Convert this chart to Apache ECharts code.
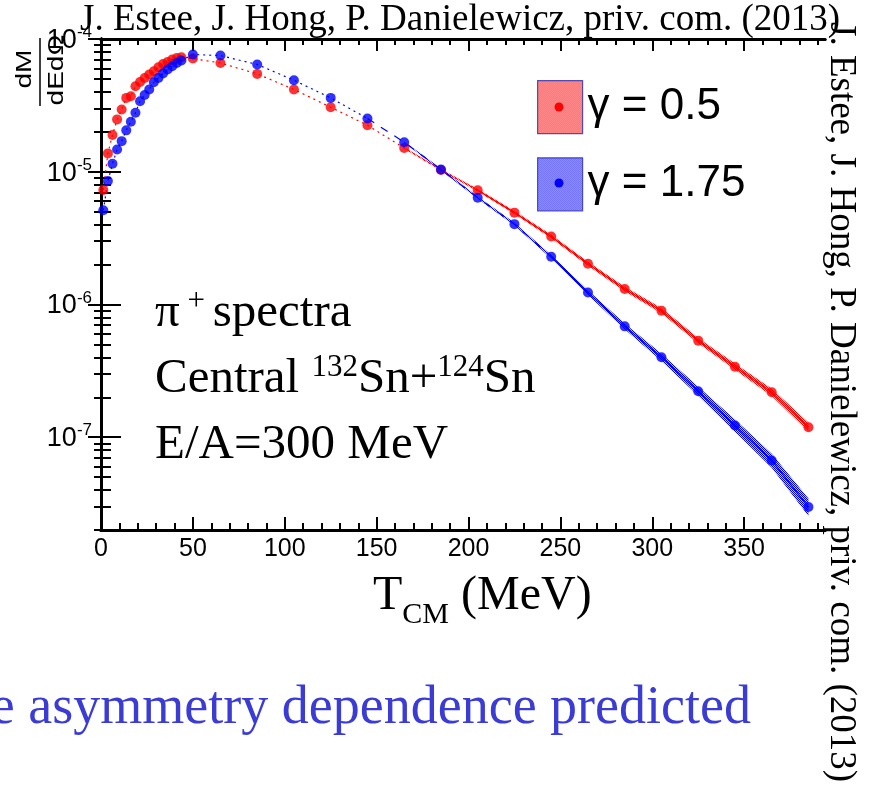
<!DOCTYPE html>
<html><head><meta charset="utf-8">
<script src="https://cdn.jsdelivr.net/npm/echarts@6/dist/echarts.min.js"></script>
<style>html,body{margin:0;padding:0;background:#fff}#c{width:875px;height:786px}</style>
</head><body><div id="c"></div>
<script>
// ---- data ----
const denseX = [1.25,3.75,6.25,8.75,11.25,13.75,16.25,18.75,21.25,23.75,26.25,28.75,31.25,33.75,36.25,38.75,41.25,43.75];
const redDense = [7.28e-6,1.375e-5,1.89e-5,2.48e-5,2.94e-5,3.6e-5,3.7e-5,4.4e-5,4.75e-5,5.09e-5,5.4e-5,5.72e-5,6.12e-5,6.49e-5,6.71e-5,7.0e-5,7.19e-5,7.28e-5];
const blueDense = [5.13e-6,8.51e-6,1.148e-5,1.473e-5,1.70e-5,2.05e-5,2.38e-5,2.78e-5,3.40e-5,3.78e-5,4.17e-5,4.72e-5,5.09e-5,5.50e-5,5.89e-5,6.24e-5,6.60e-5,6.89e-5];
const coarseX = [50,65,85,105,125,145,165,185,205,225,245,265,285,305,325,345,365,385];
const redCoarse = [7.12e-5,6.60e-5,5.46e-5,4.17e-5,3.06e-5,2.24e-5,1.51e-5,1.03e-5,7.25e-6,4.92e-6,3.25e-6,2.03e-6,1.31e-6,8.98e-7,5.34e-7,3.40e-7,2.18e-7,1.19e-7];
const blueCoarse = [7.64e-5,7.50e-5,6.43e-5,4.89e-5,3.60e-5,2.52e-5,1.67e-5,1.04e-5,6.38e-6,4.03e-6,2.29e-6,1.23e-6,6.84e-7,4.00e-7,2.22e-7,1.225e-7,6.68e-8,2.98e-8];
const bandX = [165,185,205,225,245,265,285,305,325,345,365,385];
const redBandLo = [1.49e-5,1.02e-5,7.1e-6,4.8e-6,3.15e-6,1.96e-6,1.26e-6,8.6e-7,5.1e-7,3.22e-7,2.04e-7,1.10e-7];
const redBandHi = [1.53e-5,1.05e-5,7.4e-6,5.05e-6,3.35e-6,2.10e-6,1.36e-6,9.4e-7,5.6e-7,3.6e-7,2.32e-7,1.29e-7];
const blueBandLo = [1.65e-5,1.02e-5,6.25e-6,3.93e-6,2.22e-6,1.18e-6,6.5e-7,3.75e-7,2.05e-7,1.1e-7,5.9e-8,2.55e-8];
const blueBandHi = [1.69e-5,1.06e-5,6.5e-6,4.13e-6,2.36e-6,1.28e-6,7.2e-7,4.25e-7,2.4e-7,1.36e-7,7.5e-8,3.45e-8];
const xLabels = [0,50,100,150,200,250,300,350];
const yLabels = [1e-4,1e-5,1e-6,1e-7];
const seriesNames = ['γ = 0.5','γ = 1.75'];

// ---- helpers ----
function pattern(col, light){
  const c=document.createElement('canvas'); c.width=2; c.height=2;
  const g=c.getContext('2d'); g.fillStyle=light; g.fillRect(0,0,2,2);
  g.fillStyle=col; g.fillRect(0,0,1,1); g.fillRect(1,1,1,1);
  return {image:c, repeat:'repeat'};
}
const redPat = pattern('#ff0000','#ffc4c4'), bluePat = pattern('#0000ff','#c4c4ff');
function pairs(xs, ys){ return xs.map((x,i)=>[x, ys[i]]); }
const allX = denseX.concat(coarseX);
const redAll = pairs(allX, redDense.concat(redCoarse));
const blueAll = pairs(allX, blueDense.concat(blueCoarse));
const minorX = []; for (let v=10; v<394; v+=10) if (v%50!==0) minorX.push(v);
const minorY = []; for (let e=-8; e<=-5; e++) for (let k=2;k<=9;k++){ const v=k*Math.pow(10,e); if (v>=2e-8 && v<1e-4) minorY.push(v); }

const XMIN=0, XMAX=394, YMIN=2e-8, YMAX=1e-4;
const SANS='Liberation Sans, Arial, sans-serif', SERIF='Liberation Serif, Times New Roman, serif';
const axLine = {show:true, lineStyle:{color:'#000', width:3}};
function xAx(pos, vals, len, labels){
  return {type:'value', position:pos, min:XMIN, max:XMAX, splitLine:{show:false},
    axisLine:axLine, axisTick:{show:true, inside:true, length:len, lineStyle:{color:'#000',width:2}, customValues:vals},
    axisLabel: labels ? {show:true, customValues:xLabels, fontFamily:SANS, fontSize:25, color:'#000', margin:7} : {show:false}};
}
function yAx(pos, vals, len, labels){
  return {type:'log', logBase:10, position:pos, min:YMIN, max:YMAX, splitLine:{show:false},
    axisLine:axLine, axisTick:{show:true, inside:true, length:len, lineStyle:{color:'#000',width:2}, customValues:vals},
    axisLabel: labels ? {show:true, customValues:yLabels, margin:9,
      formatter: v => '{b|10}{s|' + Math.round(Math.log10(v)) + '}',
      rich:{b:{fontFamily:SANS, fontSize:27, color:'#000', lineHeight:30, verticalAlign:'bottom'},
            s:{fontFamily:SANS, fontSize:17, color:'#000', lineHeight:18, verticalAlign:'top'}}} : {show:false}};
}
function band(xs, lo, hi, fill){
  return {type:'custom', coordinateSystem:'cartesian2d', silent:true, z:1, clip:true,
    data:[[xs[0], lo[0]]],
    renderItem:(params, api)=>{
      const pts=[];
      for (let i=0;i<xs.length;i++) pts.push(api.coord([xs[i], hi[i]]));
      for (let i=xs.length-1;i>=0;i--) pts.push(api.coord([xs[i], lo[i]]));
      return {type:'polygon', shape:{points:pts}, style:{fill:fill, stroke:null}};
    }};
}
function line(data, color, type){
  return {type:'line', data:data, symbol:'none', z:2, silent:true,
    lineStyle:{color:color, width:1.2, type:type}};
}
const sel = (arr, a, b) => arr.filter(p => p[0]>=a && p[0]<=b);
const richMain = {n:{font:'49px '+SERIF, fill:'#000', lineHeight:52, verticalAlign:'bottom'}, s:{font:'31px '+SERIF, fill:'#000', lineHeight:31, verticalAlign:'top'}};

const chart = echarts.init(document.getElementById('c'), null, {renderer:'canvas'});
chart.setOption({
  animation:false,
  backgroundColor:'#fff',
  grid:{left:101, right:50, top:39, bottom:256},
  xAxis:[ xAx('bottom', xLabels, 13, true), xAx('bottom', minorX, 7, false),
          xAx('top', xLabels, 12, false), xAx('top', minorX, 6, false) ],
  yAxis:[ yAx('left', yLabels, 20, true), yAx('left', minorY, 10, false),
          yAx('right', yLabels, 13, false), yAx('right', minorY, 7, false) ],
  legend:{show:true, left:537, top:80, padding:0, orient:'vertical', itemWidth:45, itemHeight:53, itemGap:23,
    selectedMode:false, icon:'rect',
    textStyle:{fontFamily:SANS, fontSize:44, color:'#000'},
    data:[{name:seriesNames[0], itemStyle:{color:redPat, borderColor:'#2b2bb0', borderWidth:1.2}},
          {name:seriesNames[1], itemStyle:{color:bluePat, borderColor:'#2b2bb0', borderWidth:1.2}}]},
  series:[
    band(bandX, redBandLo, redBandHi, redPat),
    band(bandX, blueBandLo, blueBandHi, bluePat),
    line(sel(redAll,0,205), '#ff0000', [2,4]),
    line(sel(redAll,205,400), '#ff0000', 'solid'),
    line(sel(blueAll,0,145), '#0000ff', [2,4]),
    line(sel(blueAll,145,245), '#0000ff', [8,8]),
    line(sel(blueAll,245,400), '#0000ff', 'solid'),
    {name:seriesNames[0], type:'scatter', data:redAll, symbolSize:10, z:3,
      itemStyle:{color:'#ff0000'}},
    {name:seriesNames[1], type:'scatter', data:blueAll, symbolSize:10, z:4,
      itemStyle:{color:'#0000ff'}}
  ],
  graphic:[
    {type:'circle', shape:{cx:559, cy:107, r:4.5}, style:{fill:'#ff0000'}, z:100},
    {type:'circle', shape:{cx:559, cy:183, r:4.5}, style:{fill:'#0000ff'}, z:100},
    {type:'text', x:80, y:20, style:{text:'J. Estee, J. Hong, P. Danielewicz, priv. com. (2013)', font:'37px '+SERIF, fill:'#000', verticalAlign:'middle', align:'left'}, z:100},
    {type:'text', x:841, y:22, rotation:-Math.PI/2, style:{text:'J. Estee, J. Hong, P. Danielewicz, priv. com. (2013)', font:'37px '+SERIF, fill:'#000', verticalAlign:'middle', align:'left'}, z:100},
    {type:'text', x:751, y:709, style:{text:'e asymmetry dependence predicted', font:'54px '+SERIF, fill:'#3b3bd6', verticalAlign:'middle', align:'right'}, z:100},
    {type:'text', x:25, y:69, rotation:Math.PI/2, scaleY:0.8, style:{text:'dM', font:'28px '+SANS, fill:'#000', verticalAlign:'middle', align:'center'}, z:100},
    {type:'line', shape:{x1:40, y1:38, x2:40, y2:106}, style:{stroke:'#000', lineWidth:1.5}, z:100},
    {type:'text', x:57, y:70, rotation:Math.PI/2, scaleY:0.8, style:{text:'dEdΩ', font:'28px '+SANS, fill:'#000', verticalAlign:'middle', align:'center'}, z:100},
    {type:'text', x:155, y:312, style:{text:'{n|π}{s| + }{n|spectra}', verticalAlign:'middle', align:'left', rich:richMain}, z:100},
    {type:'text', x:155, y:378, style:{text:'{n|Central }{s|132}{n|Sn+}{s|124}{n|Sn}', verticalAlign:'middle', align:'left', rich:richMain}, z:100},
    {type:'text', x:155, y:445, style:{text:'E/A=300 MeV', font:'49px '+SERIF, fill:'#000', verticalAlign:'middle', align:'left'}, z:100},
    {type:'text', x:373, y:601, style:{text:'{n|T}{c|CM}{n| (MeV)}', verticalAlign:'middle', align:'left',
      rich:{n:{font:'48px '+SERIF, fill:'#000', lineHeight:58, verticalAlign:'top'}, c:{font:'30px '+SERIF, fill:'#000', lineHeight:30, verticalAlign:'bottom'}}}, z:100}
  ]
});
</script></body></html>
